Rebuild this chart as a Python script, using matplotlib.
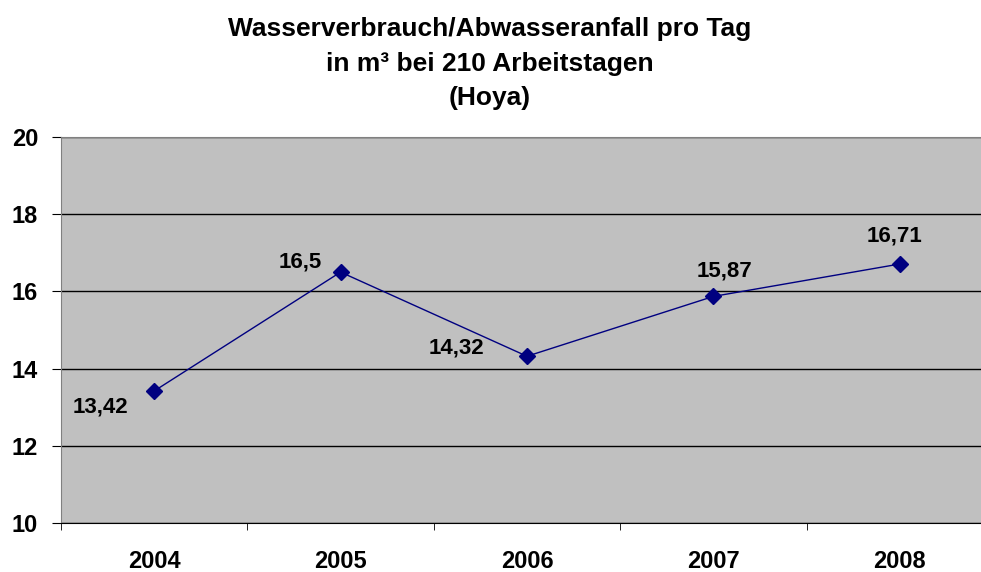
import matplotlib
matplotlib.use("Agg")
import matplotlib.pyplot as plt
from matplotlib.ticker import FixedLocator

plt.rcParams['font.family'] = ['Liberation Sans', 'DejaVu Sans']

# data
jahre = ['2004', '2005', '2006', '2007', '2008']
verbrauch = [13.42, 16.5, 14.32, 15.87, 16.71]
labels = ['13,42', '16,5', '14,32', '15,87', '16,71']
# label offsets in pixels (dx, dy)
offsets = [(-54, -16), (-40, 10), (-71, 8), (11, 25), (-5, 28)]

fig = plt.figure(figsize=(9.81, 5.72), dpi=100)
ax = fig.add_axes([61 / 981, 49 / 572, 932 / 981, 386 / 572])

x = list(range(len(jahre)))
ax.plot(x, verbrauch, color='#000080', lw=1.0, marker='D', ms=8,
        markerfacecolor='#000080', markeredgecolor='#000080', zorder=3)

for xi, yi, lab, (dx, dy) in zip(x, verbrauch, labels, offsets):
    ax.annotate(lab, (xi, yi), xytext=(dx, dy), textcoords='offset pixels',
                ha='center', va='center', fontsize=16, fontweight='bold')

ax.set_facecolor('#C0C0C0')
ax.set_xlim(-0.5, 4.5)
ax.set_ylim(10, 20)
ax.set_yticks([10, 12, 14, 16, 18, 20])
ax.yaxis.grid(True, color='black', lw=1.0)
ax.set_axisbelow(True)

ax.set_xticks(x)
ax.set_xticklabels(jahre)
ax.xaxis.set_minor_locator(FixedLocator([-0.5, 0.5, 1.5, 2.5, 3.5, 4.5]))
ax.tick_params(axis='x', which='major', length=0, pad=19.5, labelsize=17)
ax.tick_params(axis='x', which='minor', length=5, direction='out', color='black')
for lab in ax.get_xticklabels():
    lab.set_fontweight('bold')
ax.tick_params(axis='y', length=6.5, direction='out', pad=10, labelsize=17)
for lab in ax.get_yticklabels():
    lab.set_fontweight('bold')

ax.spines['top'].set_color('#808080')
ax.spines['left'].set_color('#808080')
ax.spines['right'].set_visible(False)
ax.spines['bottom'].set_color('black')

fig.text(0.4995, 1 - 63.5 / 572, 'Wasserverbrauch/Abwasseranfall pro Tag\nin m³ bei 210 Arbeitstagen\n(Hoya)',
         ha='center', va='center', fontsize=19, fontweight='bold', linespacing=1.54)

fig.savefig('out.png', dpi=100)
